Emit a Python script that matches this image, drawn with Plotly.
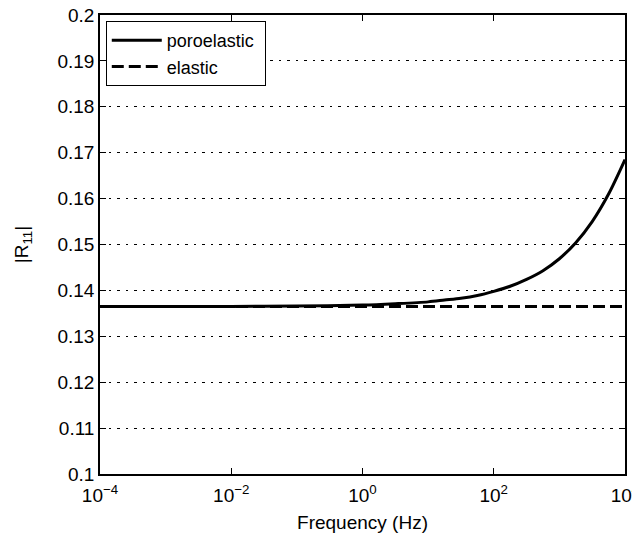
import plotly.graph_objects as go

# data (frequency as log10 Hz, |R11| values)
log_freq = [-4, -3, -2, -1, 0, 0.5, 1, 1.25, 1.5, 1.75, 2, 2.25, 2.5, 2.75, 3, 3.25, 3.5, 3.75, 4]
poroelastic = [0.1365, 0.1365, 0.1365, 0.1366, 0.1368, 0.1371, 0.1375, 0.1379, 0.1383, 0.1389,
               0.1398, 0.1409, 0.1424, 0.1443, 0.1469, 0.1504, 0.1550, 0.1610, 0.1685]
elastic = [0.1365] * len(log_freq)
freq = [10 ** v for v in log_freq]

x_tickvals = [1e-4, 1e-2, 1, 1e2, 1e4]
x_ticktext = ["10<sup>−4</sup>", "10<sup>−2</sup>", "10<sup>0</sup>", "10<sup>2</sup>", "10<sup>4</sup>"]
y_tickvals = [0.1, 0.11, 0.12, 0.13, 0.14, 0.15, 0.16, 0.17, 0.18, 0.19, 0.2]
y_ticktext = ["0.1", "0.11", "0.12", "0.13", "0.14", "0.15", "0.16", "0.17", "0.18", "0.19", "0.2"]

fig = go.Figure()
fig.add_trace(go.Scatter(x=freq, y=poroelastic, mode="lines", name="poroelastic\u00a0",
                         line=dict(color="black", width=3, shape="spline", smoothing=0.8)))
fig.add_trace(go.Scatter(x=freq, y=elastic, mode="lines", name="elastic",
                         line=dict(color="black", width=3, dash="12px,5px")))

font = "Liberation Sans, Arial, Helvetica, sans-serif"
# the page body has an 8px default margin, so margins are reduced by 8px on left/top
fig.update_layout(
    width=640, height=536,
    margin=dict(l=92, r=23, t=7, b=70),
    paper_bgcolor="white", plot_bgcolor="white",
    font=dict(family=font, size=19, color="black"),
    showlegend=True,
    legend=dict(x=0.011, y=0.987, xanchor="left", yanchor="top",
                bgcolor="white", bordercolor="black", borderwidth=1,
                font=dict(size=18), tracegroupgap=0, itemwidth=50),
)
fig.update_xaxes(
    type="log", range=[-4, 4], automargin=False,
    tickvals=x_tickvals, ticktext=x_ticktext,
    ticks="inside", ticklen=6, tickwidth=1, tickcolor="black",
    ticklabeloverflow="allow", ticklabelstandoff=3,
    showline=True, linecolor="black", linewidth=1.5, mirror="ticks",
    showgrid=False, zeroline=False,
    title=dict(text="Frequency (Hz)", font=dict(size=19), standoff=11),
    tickfont=dict(size=19),
)
fig.update_yaxes(
    range=[0.1, 0.2], automargin=False,
    tickvals=y_tickvals, ticktext=y_ticktext,
    ticks="inside", ticklen=6, tickwidth=1, tickcolor="black",
    ticklabeloverflow="allow",
    showline=True, linecolor="black", linewidth=1.5, mirror="ticks",
    showgrid=True, gridcolor="black", gridwidth=1.2, griddash="2.5px,6px",
    zeroline=False,
    title=dict(text="|R<sub>11</sub>|", font=dict(size=19), standoff=24),
    tickfont=dict(size=19),
)

fig.write_html("out.html")
